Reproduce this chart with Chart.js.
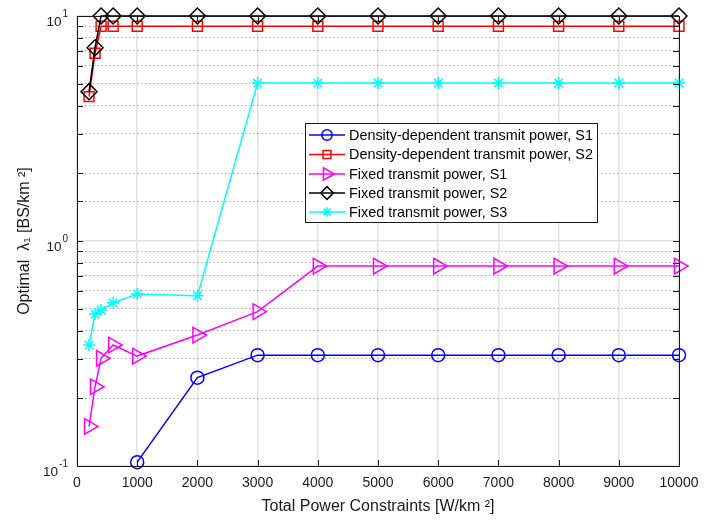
<!DOCTYPE html>
<html lang="en">
<head>
<meta charset="UTF-8" />
<title>Optimal lambda vs total power constraint</title>
<style>
  html, body { margin: 0; padding: 0; background: #fff; }
  #wrap { width: 709px; height: 524px; }
</style>
</head>
<body>
<div id="wrap"><canvas id="chart-1" width="709" height="524"></canvas></div>

<script src="https://cdn.jsdelivr.net/npm/chart.js"></script>
<script>
// power constraint grid [W/km^2]
const powerAll = [200, 300, 400, 600, 1000, 2000, 3000, 4000, 5000, 6000, 7000, 8000, 9000, 10000];
const powerHigh = [1000, 2000, 3000, 4000, 5000, 6000, 7000, 8000, 9000, 10000];

// optimal lambda_1 [BS/km^2]
const densityS1 = [0.104, 0.247, 0.311, 0.311, 0.311, 0.311, 0.311, 0.311, 0.311, 0.311];
const densityS2 = [4.38, 6.83, 9.0, 9.0, 9.0, 9.0, 9.0, 9.0, 9.0, 9.0, 9.0, 9.0, 9.0, 9.0];
const fixedS1 = [0.15, 0.225, 0.301, 0.345, 0.308, 0.382, 0.485, 0.774, 0.774, 0.774, 0.774, 0.774, 0.774, 0.774];
const fixedS2 = [4.61, 7.23, 10, 10, 10, 10, 10, 10, 10, 10, 10, 10, 10, 10];
const fixedS3 = [0.345, 0.474, 0.493, 0.532, 0.581, 0.571, 5.04, 5.04, 5.04, 5.04, 5.04, 5.04, 5.04, 5.04];

const xTicks = [0, 1000, 2000, 3000, 4000, 5000, 6000, 7000, 8000, 9000, 10000];
const yDecades = [-1, 0, 1];

const FONT = '"Liberation Sans", Arial, Helvetica, sans-serif';

function pairs(xs, ys) {
  return ys.map((y, i) => ({ x: xs[i], y: y }));
}

function series(label, xs, ys, color, style, radius, rotation, order) {
  return {
    label: label,
    data: pairs(xs, ys),
    borderColor: color,
    backgroundColor: color,
    borderWidth: 1.5,
    pointStyle: style,
    pointRadius: radius,
    pointRotation: rotation,
    pointBorderColor: color,
    pointBackgroundColor: "rgba(0,0,0,0)",
    pointBorderWidth: 1.5,
    tension: 0,
    fill: false,
    clip: false,
    order: order,
  };
}

const isDecade = (v) => Math.abs(Math.log10(v) - Math.round(Math.log10(v))) < 1e-6;

// box, inward ticks, y labels with exponents, legend
const frame = {
  id: "frame",
  afterDatasetsDraw(chart) {
    const { ctx, chartArea: a, scales } = chart;
    const x = scales.x, y = scales.y;
    ctx.save();
    ctx.strokeStyle = "#1a1a1a";
    ctx.lineWidth = 1;
    ctx.setLineDash([]);

    ctx.beginPath();
    xTicks.forEach((t) => {
      const px = Math.round(x.getPixelForValue(t)) + 0.5;
      ctx.moveTo(px, a.bottom); ctx.lineTo(px, a.bottom - 6);
      ctx.moveTo(px, a.top); ctx.lineTo(px, a.top + 6);
    });
    y.ticks.forEach((t) => {
      const py = Math.round(y.getPixelForValue(t.value)) + 0.5;
      ctx.moveTo(a.left, py); ctx.lineTo(a.left + 6, py);
      ctx.moveTo(a.right, py); ctx.lineTo(a.right - 6, py);
    });
    ctx.stroke();

    ctx.strokeRect(Math.round(a.left) + 0.5, Math.round(a.top) + 0.5,
      Math.round(a.right - a.left), Math.round(a.bottom - a.top));

    // y tick labels: 10^k
    ctx.fillStyle = "#1a1a1a";
    yDecades.forEach((k) => {
      const py = y.getPixelForValue(Math.pow(10, k));
      const exp = k < 0 ? "-" + Math.abs(k) : String(k);
      ctx.font = "10px " + FONT;
      const ew = ctx.measureText(exp).width;
      ctx.textAlign = "right";
      ctx.textBaseline = "middle";
      ctx.fillText(exp, a.left - 9, py - 2);
      ctx.font = "13.5px " + FONT;
      ctx.fillText("10", a.left - 10 - ew, py + 6);
    });
    ctx.restore();
  },
  afterDraw(chart) {
    const { ctx } = chart;
    const box = { left: 305.5, top: 123.5, width: 292, height: 99 };
    ctx.save();
    ctx.fillStyle = "#fff";
    ctx.fillRect(box.left, box.top, box.width, box.height);
    ctx.strokeStyle = "#1a1a1a";
    ctx.lineWidth = 1;
    ctx.strokeRect(box.left, box.top, box.width, box.height);

    const rows = [135, 154.5, 174, 193, 212];
    chart.data.datasets.forEach((ds, r) => {
      const ry = rows[r];
      ctx.strokeStyle = ds.borderColor;
      ctx.lineWidth = 1.5;
      ctx.beginPath();
      ctx.moveTo(309, ry); ctx.lineTo(345, ry);
      ctx.stroke();
      ctx.fillStyle = "rgba(0,0,0,0)";
      Chart.helpers.drawPoint(ctx, {
        pointStyle: ds.pointStyle,
        rotation: ds.pointRotation,
        radius: ds.pointRadius * 0.8,
        borderWidth: 1.5,
      }, 327, ry);
      ctx.fillStyle = "#000";
      ctx.font = "14.4px " + FONT;
      ctx.textAlign = "left";
      ctx.textBaseline = "middle";
      ctx.fillText(ds.label, 349, ry + 1);
    });
    ctx.restore();
  },
};

const ctx = document.getElementById("chart-1");
const chart = new Chart(ctx, {
  type: "line",
  data: {
    datasets: [
      series("Density-dependent transmit power, S1", powerHigh, densityS1, "#0000ff", "circle", 6.5, 0, 5),
      series("Density-dependent transmit power, S2", powerAll, densityS2, "#ff0000", "rect", 7, 0, 4),
      series("Fixed transmit power, S1", powerAll, fixedS1, "#ff00ff", "triangle", 9, 90, 3),
      series("Fixed transmit power, S2", powerAll, fixedS2, "#000000", "rectRot", 8, 0, 2),
      series("Fixed transmit power, S3", powerAll, fixedS3, "#00ffff", "star", 6, 0, 1),
    ],
  },
  options: {
    responsive: false,
    animation: false,
    events: [],
    layout: { padding: { top: 16, right: 30, left: 0, bottom: 0 } },
    plugins: { legend: { display: false }, tooltip: { enabled: false } },
    scales: {
      x: {
        type: "linear",
        min: 0,
        max: 10000,
        afterFit: (s) => { s.height = 58; },
        afterBuildTicks: (s) => { s.ticks = xTicks.map((v) => ({ value: v })); },
        grid: { color: "#e2e2e2", lineWidth: 1.5, drawTicks: false },
        border: { display: false },
        ticks: {
          padding: 9,
          color: "#1a1a1a",
          font: { family: FONT, size: 14 },
          maxRotation: 0,
          autoSkip: false,
          callback: (v) => String(v),
        },
        title: {
          display: true,
          text: "Total Power Constraints [W/km ²]",
          color: "#1a1a1a",
          font: { family: FONT, size: 16 },
          padding: { top: 0, bottom: 8 },
        },
      },
      y: {
        type: "logarithmic",
        min: 0.1,
        max: 10,
        afterFit: (s) => { s.width = 77; },
        grid: {
          drawTicks: false,
          color: (c) => (c.tick && isDecade(c.tick.value) ? "#e2e2e2" : "#a8a8a8"),
          lineWidth: (c) => (c.tick && isDecade(c.tick.value) ? 1.5 : 1),
        },
        border: {
          display: false,
          dash: (c) => (c.tick && isDecade(c.tick.value) ? [] : [1.5, 2.5]),
        },
        ticks: {
          autoSkip: false,
          callback: () => "",
        },
        title: {
          display: true,
          text: "Optimal  λ₁ [BS/km ²]",
          color: "#1a1a1a",
          font: { family: FONT, size: 16 },
          padding: { top: 15, bottom: 0 },
        },
      },
    },
  },
  plugins: [frame],
});
</script>
</body>
</html>
